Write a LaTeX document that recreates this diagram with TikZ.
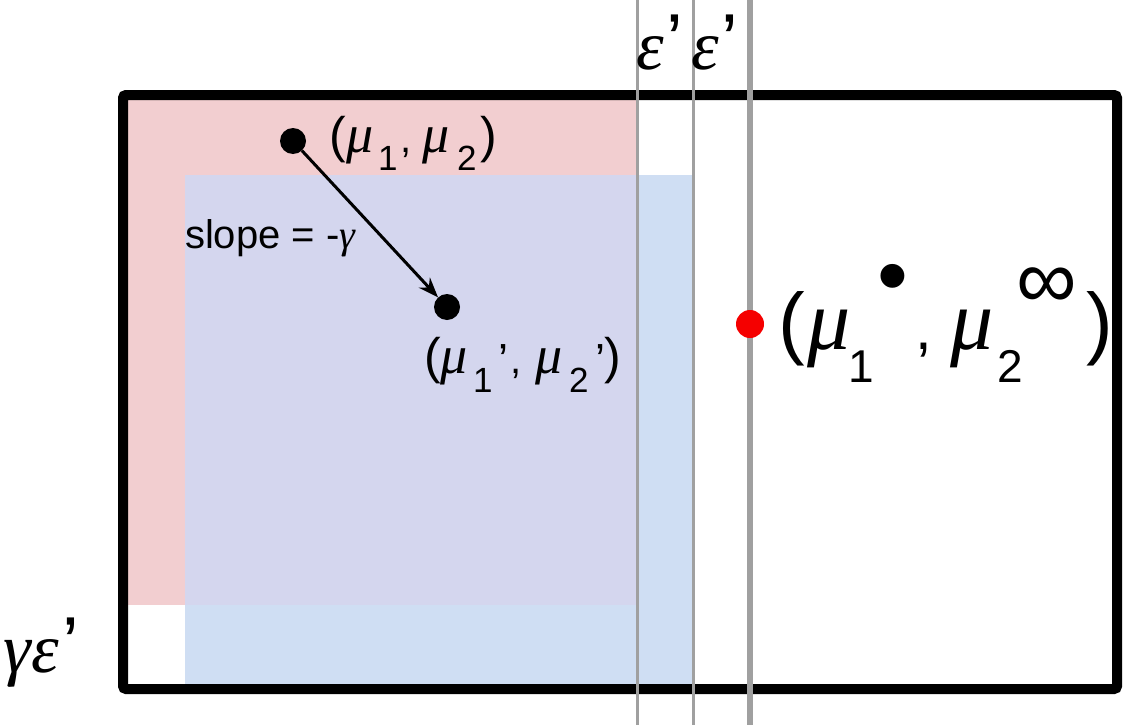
\documentclass[tikz,border=0pt]{standalone}
\usepackage{fontspec}
\usetikzlibrary{arrows.meta}
\setmainfont{Liberation Sans}
\newfontfamily\grk{Liberation Serif}
\newcommand\gi[1]{{\grk\itshape #1}}
\newcommand\fs[1]{\fontsize{#1}{#1}\selectfont}
\newcommand\pcs[2]{\makebox[#1pt][l]{#2}}
\definecolor{pinkf}{RGB}{242,206,208}
\definecolor{bluef}{RGB}{207,222,243}
\definecolor{mixf}{RGB}{212,214,238}
\definecolor{grayl}{RGB}{160,160,160}
\definecolor{redd}{RGB}{245,0,0}
\tikzset{
  dot/.style={circle, fill=black, minimum size=26pt, inner sep=0pt},
  lbl/.style={anchor=base west, inner sep=0pt, outer sep=0pt},
  vline/.style={grayl, line width=3pt},
}
\begin{document}
\begin{tikzpicture}[x=1pt, y=-1pt]
\useasboundingbox (0,0) rectangle (1145,725);
% shaded regions
\fill[pinkf] (128,100) rectangle (637,605);
\fill[bluef] (185,175) rectangle (693,684);
\fill[mixf] (185,175) rectangle (637,605);
% frame
\draw[line width=10pt, rounded corners=3pt] (123,95) rectangle (1117,689);
% vertical lines
\coordinate (a1) at (637,0); \coordinate (a2) at (637,725);
\coordinate (b1) at (693,0); \coordinate (b2) at (693,725);
\coordinate (c1) at (750,0); \coordinate (c2) at (750,725);
\draw[vline] (a1) -- (a2);
\draw[vline] (b1) -- (b2);
\draw[vline, line width=6.5pt] (c1) -- (c2);
% epsilon labels
\node[lbl] (e1) at (636,70) {\fs{70}\gi{ε}\hspace{3pt}\raisebox{3pt}{\fs{75}’}};
\node[lbl] (e2) at (691,70) {\fs{70}\gi{ε}\hspace{3pt}\raisebox{3pt}{\fs{75}’}};
\node[lbl] (ge) at (4,672) {\fs{70}\gi{γε}\hspace{3pt}\raisebox{3pt}{\fs{75}’}};
% points
\node[dot] (m) at (293,141) {};
\node[dot] (mp) at (447,307) {};
\node[dot, fill=redd, minimum size=28pt] (ms) at (750,324) {};
\draw[-{Stealth[length=20pt,width=15pt]}, line width=3pt] (m) -- (mp);
% labels
\node[lbl] (l1) at (329,152) {\fs{50}\pcs{17}{(}\pcs{32}{\fs{54}\gi{μ}}\pcs{22}{\raisebox{-18pt}{\fs{35}1}}\pcs{22}{\fs{40},}\pcs{35}{\fs{54}\gi{μ}}\pcs{23}{\raisebox{-18pt}{\fs{35}2}})};
\node[lbl] (sl) at (185,248) {\fs{40}slope = -\gi{γ}};
\node[lbl] (l2) at (424,373) {\fs{50}\pcs{16}{(}\pcs{33}{\fs{54}\gi{μ}}\pcs{25}{\raisebox{-19pt}{\fs{35}1}}\pcs{12}{\raisebox{-2pt}{\fs{45}’}}\pcs{25}{\fs{40},}\pcs{34}{\fs{54}\gi{μ}}\pcs{26}{\raisebox{-19pt}{\fs{35}2}}\pcs{9}{\raisebox{-2pt}{\fs{45}’}})};
\node[lbl] (l3) at (778,349) {\fs{80}\pcs{29}{(}\pcs{41}{\fs{86}\gi{μ}}\pcs{29.5}{\raisebox{-33pt}{\fs{46}1}}\pcs{37.5}{\raisebox{44pt}{\fs{88}•}}\pcs{35}{\fs{60},}\pcs{47}{\fs{86}\gi{μ}}\pcs{19}{\raisebox{-33pt}{\fs{46}2}}\pcs{70}{\raisebox{41pt}{\fs{85}∞}})};
\end{tikzpicture}
\end{document}
